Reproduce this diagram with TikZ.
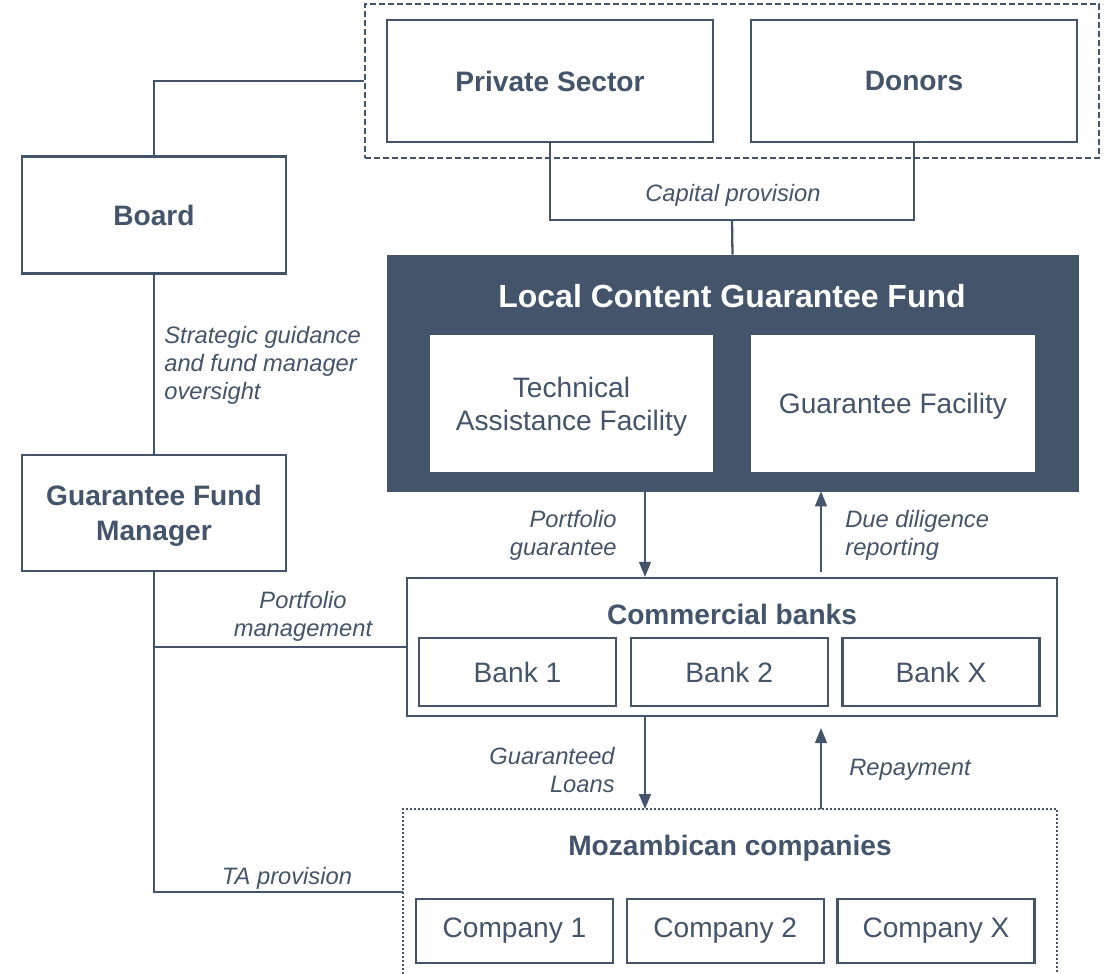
\documentclass[tikz,border=0pt]{standalone}
\usepackage{fontspec}
\setmainfont{Liberation Sans}
\usetikzlibrary{positioning, fit, arrows.meta}
\definecolor{slate}{HTML}{44546A}

\tikzset{
  box/.style={draw, fill=white, line width=1.3pt, align=center, inner sep=0pt,
    font=\fontsize{16}{18.7}\selectfont},
  headbox/.style={box, font=\fontsize{16}{19.8}\selectfont\bfseries},
  head/.style={align=center, inner sep=0pt, font=\fontsize{16}{19}\selectfont\bfseries},
  note/.style={inner sep=0pt, font=\fontsize{13.5}{15.9}\selectfont\itshape},
  link/.style={line width=1.3pt},
  arr/.style={line width=0.8pt, -{Triangle[width=0.24cm, length=0.3cm]}}
}

\begin{document}
\begin{tikzpicture}[x=0.02cm, y=-0.02cm, color=slate]
  \useasboundingbox (0,0) rectangle (1110,974);

  \node (ps) [headbox, minimum width=6.52cm, minimum height=2.44cm] at (550,81) {Private Sector};
  \node (don) [headbox, minimum width=6.52cm, minimum height=2.44cm] at (914,81) {Donors};
  \node (investors) [draw, line width=1.2pt, dash pattern=on 0.12cm off 0.06cm,
    inner xsep=0.42cm, inner ysep=0.29cm, fit=(ps)(don)] {};

  \node (board) [headbox, minimum width=5.28cm, minimum height=2.34cm] at (154,215) {Board};
  \node (gfm) [headbox, minimum width=5.28cm, minimum height=2.32cm, text depth=0pt] at (154,513) {Guarantee Fund\\Manager};

  \node (fund) [draw=slate, fill=slate, minimum width=13.82cm, minimum height=4.72cm] at (732.5,373) {};
  \node (fundtitle) [head, text=white, font=\fontsize{18.2}{20}\selectfont\bfseries] at (732,296) {Local Content Guarantee Fund};
  \node (taf) [box, draw=white, minimum width=5.62cm, minimum height=2.7cm, text depth=0pt] at (571.5,403.5) {Technical\\Assistance Facility};
  \node (gf) [box, draw=white, minimum width=5.62cm, minimum height=2.7cm, text depth=0pt] at (893,403.5) {Guarantee Facility};

  \node (banks) [box, minimum width=13cm, minimum height=2.76cm] at (732,647) {};
  \node (bankstitle) [head] at (732,614) {Commercial banks};
  \node (bank1) [box, minimum width=3.94cm, minimum height=1.36cm] at (517.5,672) {Bank 1};
  \node (bank2) [box, minimum width=3.94cm, minimum height=1.36cm, right=0.25cm of bank1] {Bank 2};
  \node (bankx) [box, minimum width=3.94cm, minimum height=1.36cm, right=0.25cm of bank2] {Bank X};

  \coordinate (mozsw) at (403,990);
  \coordinate (mozne) at (1057,809);
  \draw [line width=1.1pt, dash pattern=on 0.035cm off 0.045cm] (mozsw) |- (mozne) -- (mozne |- mozsw);
  \node (moztitle) [head] at (730,848) {Mozambican companies};
  \node (comp1) [box, minimum width=3.94cm, minimum height=1.28cm] at (514.5,931) {Company 1};
  \node (comp2) [box, minimum width=3.94cm, minimum height=1.28cm, right=0.23cm of comp1] {Company 2};
  \node (compx) [box, minimum width=3.94cm, minimum height=1.28cm, right=0.23cm of comp2] {Company X};

  % connectors
  \draw [link] (board.north) |- (investors.west);
  \draw [link] (board.south) -- (gfm.north);
  \coordinate (capjoin) at (732,220);
  \draw [link] (ps.south) |- (capjoin) -| (don.south);
  \draw [link] (capjoin) -- (fund.north);
  \draw [link] (gfm.south) |- (banks.west);
  \coordinate (talink) at (403,892);
  \draw [link] (gfm.south) |- (talink);

  \coordinate (down) at (645,0);
  \coordinate (up) at (821,0);
  \draw [arr] (fund.south -| down) -- (banks.north -| down);
  \draw [arr, shorten <=0.1cm] (banks.north -| up) -- (fund.south -| up);
  \draw [arr] (banks.south -| down) -- (mozne -| down);
  \draw [arr, shorten >=0.22cm] (mozne -| up) -- (banks.south -| up);

  % labels
  \node (capnote) [note] at (733,195) {Capital provision};
  \node (boardnote) [note, anchor=west, align=left] at (164,365) {Strategic guidance\\and fund manager\\oversight};
  \node (guarnote) [note, anchor=east, align=right] at (617,535.5) {Portfolio\\guarantee};
  \node (duenote) [note, anchor=west, align=left] at (845,535.5) {Due diligence\\reporting};
  \node (mgmtnote) [note, align=center] at (303,616) {Portfolio\\management};
  \node (tanote) [note] at (287,878) {TA provision};
  \node (loannote) [note, anchor=east, align=right] at (615,770) {Guaranteed\\Loans};
  \node (repaynote) [note, anchor=west] at (849,769.5) {Repayment};
\end{tikzpicture}
\end{document}
